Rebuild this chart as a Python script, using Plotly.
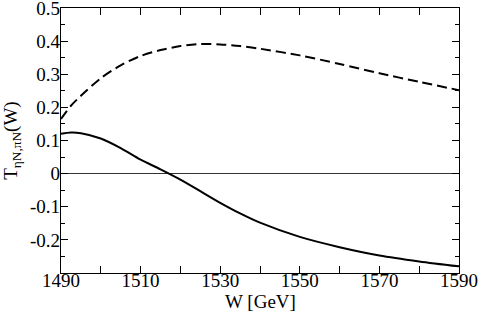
import plotly.graph_objects as go

W = [1490, 1492.5, 1495, 1500, 1505, 1510, 1515, 1520, 1525, 1530, 1535, 1540, 1550, 1560, 1570, 1580, 1590]
T_dashed = [0.165, 0.205, 0.235, 0.288, 0.327, 0.355, 0.373, 0.385, 0.391, 0.390, 0.385, 0.377, 0.357, 0.331, 0.303, 0.277, 0.252]
T_solid = [0.120, 0.124, 0.122, 0.106, 0.077, 0.042, 0.013, -0.018, -0.053, -0.088, -0.120, -0.148, -0.191, -0.222, -0.247, -0.265, -0.280]

x_ticks = list(range(1490, 1591, 10))
x_labels = [str(v) if (v - 1490) % 20 == 0 else "" for v in x_ticks]
y_ticks = [-0.2, -0.1, 0, 0.1, 0.2, 0.3, 0.4, 0.5]
y_labels = ["-0.2", "-0.1", "0", "0.1", "0.2", "0.3", "0.4", "0.5"]

fig = go.Figure()
fig.add_trace(go.Scatter(x=W, y=T_solid, mode="lines", line=dict(color="black", width=2, shape="spline", smoothing=0.8), showlegend=False))
fig.add_trace(go.Scatter(x=W, y=T_dashed, mode="lines", line=dict(color="black", width=2, dash="10px,5px", shape="spline", smoothing=0.8), showlegend=False))

font = dict(family="Times New Roman, Liberation Serif, DejaVu Serif, serif", size=19, color="black")
fig.update_layout(
    width=479, height=311,
    margin=dict(l=61, r=20, t=8, b=38),
    paper_bgcolor="white", plot_bgcolor="white",
    font=font,
    xaxis=dict(
        range=[1490, 1590], tickmode="array", tickvals=x_ticks, ticktext=x_labels,
        ticks="inside", ticklen=7, tickwidth=1, tickcolor="black",
        showline=True, linecolor="black", linewidth=1.2, mirror="allticks",
        showgrid=False, zeroline=False, tickfont=font, automargin=False,
        ticklabelstandoff=-10, ticklabeloverflow="allow",
    ),
    yaxis=dict(
        range=[-0.3, 0.5], tickmode="array", tickvals=y_ticks, ticktext=y_labels,
        ticks="inside", ticklen=7, tickwidth=1, tickcolor="black",
        minor=dict(tickvals=[-0.25, -0.15, -0.05, 0.05, 0.15, 0.25, 0.35, 0.45], ticks="inside", ticklen=4, tickcolor="black", showgrid=False),
        showline=True, linecolor="black", linewidth=1.2, mirror="allticks",
        showgrid=False, zeroline=True, zerolinecolor="#333333", zerolinewidth=1,
        tickfont=font, automargin=False, ticklabelstandoff=-4, ticklabeloverflow="allow",
    ),
    annotations=[
        dict(text="W [GeV]", xref="paper", yref="paper", x=0.5, y=-0.15, xanchor="center", yanchor="bottom",
             showarrow=False, font=font, borderpad=0),
        dict(text="T<sub>ηN,πN</sub>(W)", xref="paper", yref="paper", x=-0.125, y=0.5, xanchor="center", yanchor="middle",
             textangle=-90, showarrow=False, font=font, borderpad=0),
    ],
)

fig.write_html("out.html", config={"displayModeBar": False},
               post_script="document.body.style.margin='0';document.body.style.overflow='hidden';")
